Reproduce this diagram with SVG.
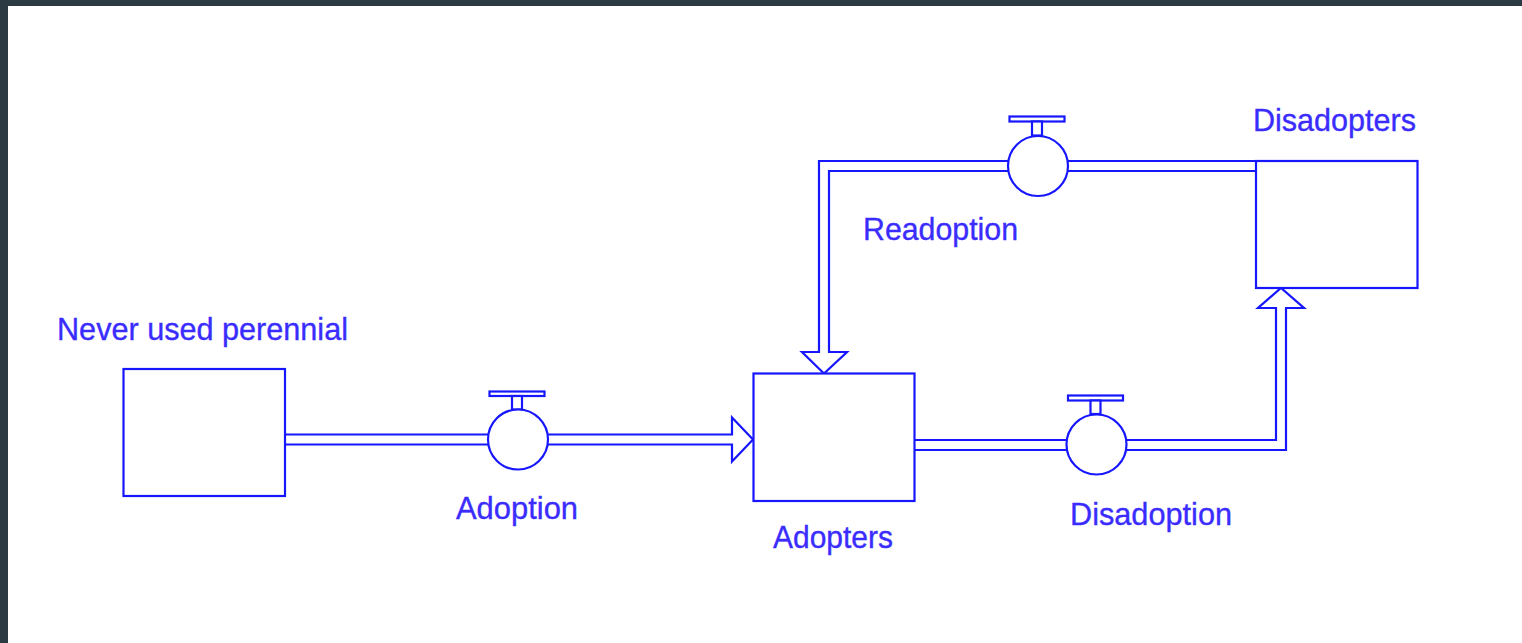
<svg xmlns="http://www.w3.org/2000/svg" width="1522" height="643" viewBox="0 0 1522 643">
<style>
.ln{fill:none;stroke:#1717ff;stroke-width:2.2;stroke-linejoin:miter}
.bx{fill:#fff;stroke:#1717ff;stroke-width:2.2}
.vc{fill:#fff;stroke:#1717ff;stroke-width:2.2}
.t{font-family:"Liberation Sans",Arial,sans-serif;font-size:32px;fill:#3a2cff;stroke:#3a2cff;stroke-width:0.35}
</style>
<rect x="0" y="0" width="1522" height="643" fill="#ffffff"/>
<rect x="0" y="0" width="1522" height="6" fill="#2c3b43"/>
<rect x="0" y="0" width="8" height="643" fill="#2c3b43"/>
<g id="connectors">
<path class="ln" d="M285,434.5 H488 M285,444.5 H488 M548,434.5 H732 V417.5 L753,439.5 L732,461.5 V444.5 H548"/>
<path class="ln" d="M914.5,440 H1067 M914.5,450 H1067 M1126,440 H1276 V308 H1258 L1281,288 L1304,308 H1286 V450 H1126"/>
<path class="ln" d="M1256,161 H1068 M1256,171 H1068 M1008,161 H819 V352 H802 L824,373.5 L847,352 H829 V171 H1008"/>
</g>
<g id="never-used-perennial">
<rect class="bx" x="123.5" y="369" width="161.5" height="127"/>
<text class="t" x="57" y="340" textLength="291" lengthAdjust="spacingAndGlyphs">Never used perennial</text>
</g>
<g id="adopters">
<rect class="bx" x="753.5" y="373.5" width="161" height="127.5"/>
<text class="t" x="773" y="548" textLength="120" lengthAdjust="spacingAndGlyphs">Adopters</text>
</g>
<g id="disadopters">
<rect class="bx" x="1256" y="161" width="161.5" height="127"/>
<text class="t" x="1253" y="131" textLength="163" lengthAdjust="spacingAndGlyphs">Disadopters</text>
</g>
<g id="adoption">
<rect class="vc" x="489.5" y="391.5" width="55" height="4.5"/>
<rect class="vc" x="512" y="396" width="10" height="13.5"/>
<circle class="vc" cx="518" cy="439.5" r="30"/>
<text class="t" x="456" y="519" textLength="122" lengthAdjust="spacingAndGlyphs">Adoption</text>
</g>
<g id="readoption">
<rect class="vc" x="1009.5" y="116.5" width="55" height="5"/>
<rect class="vc" x="1032" y="121.5" width="10" height="14"/>
<circle class="vc" cx="1038" cy="166" r="30"/>
<text class="t" x="863" y="240" textLength="155" lengthAdjust="spacingAndGlyphs">Readoption</text>
</g>
<g id="disadoption">
<rect class="vc" x="1068" y="395.5" width="55" height="5"/>
<rect class="vc" x="1090.5" y="400.5" width="10" height="13.5"/>
<circle class="vc" cx="1096.5" cy="444.5" r="30"/>
<text class="t" x="1070" y="525" textLength="162" lengthAdjust="spacingAndGlyphs">Disadoption</text>
</g>
</svg>
